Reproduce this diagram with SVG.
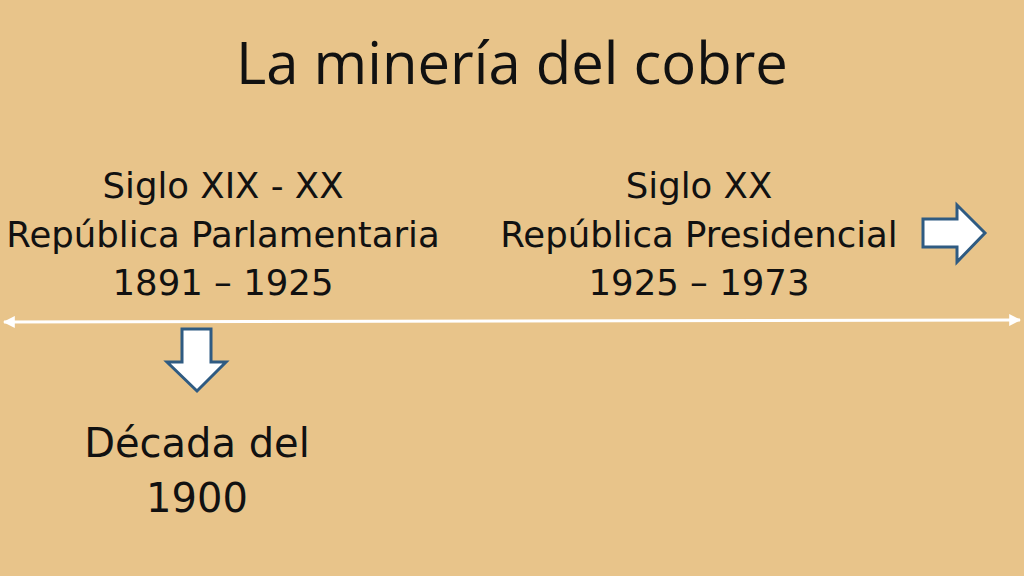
<svg xmlns="http://www.w3.org/2000/svg" width="1024" height="576" viewBox="0 0 1024 576">
  <defs>
    <style>
      .title { font-family: "Open Sans", "DejaVu Sans", sans-serif; font-size: 58px; fill: #111111; text-anchor: middle; }
      .body { font-family: "DejaVu Sans", sans-serif; font-size: 35.5px; fill: #111111; text-anchor: middle; }
      .big { font-family: "DejaVu Sans", sans-serif; font-size: 40px; fill: #111111; text-anchor: middle; }
      .blockarrow { fill: #ffffff; stroke: #2f5b82; stroke-width: 3; stroke-linejoin: miter; }
    </style>
    <marker id="ah" viewBox="0 0 10 10" refX="9" refY="5" markerWidth="4" markerHeight="4" orient="auto-start-reverse" markerUnits="strokeWidth">
      <path d="M0,0 L10,5 L0,10 z" fill="#ffffff"/>
    </marker>
  </defs>
  <rect x="0" y="0" width="1024" height="576" fill="#e8c48a"/>

  <g id="title">
    <text class="title" x="512" y="84">La minería del cobre</text>
  </g>

  <g id="node-parlamentaria">
    <text class="body" x="223" y="198">Siglo XIX - XX</text>
    <text class="body" x="223" y="247">República Parlamentaria</text>
    <text class="body" x="223" y="295">1891 – 1925</text>
  </g>

  <g id="node-presidencial">
    <text class="body" x="699" y="198">Siglo XX</text>
    <text class="body" x="699" y="247">República Presidencial</text>
    <text class="body" x="699" y="295">1925 – 1973</text>
  </g>

  <g id="node-decada">
    <text class="big" x="197" y="457">Década del</text>
    <text class="big" x="197" y="512">1900</text>
  </g>

  <g id="connectors">
    <line x1="4" y1="322" x2="1020" y2="320" stroke="#ffffff" stroke-width="3" marker-start="url(#ah)" marker-end="url(#ah)"/>
    <path class="blockarrow" d="M923,219 L957,219 L957,205 L985,233 L957,262 L957,247 L923,247 Z"/>
    <path class="blockarrow" d="M182,329 L211,329 L211,362 L226,362 L197,391 L167,362 L182,362 Z"/>
  </g>
</svg>
